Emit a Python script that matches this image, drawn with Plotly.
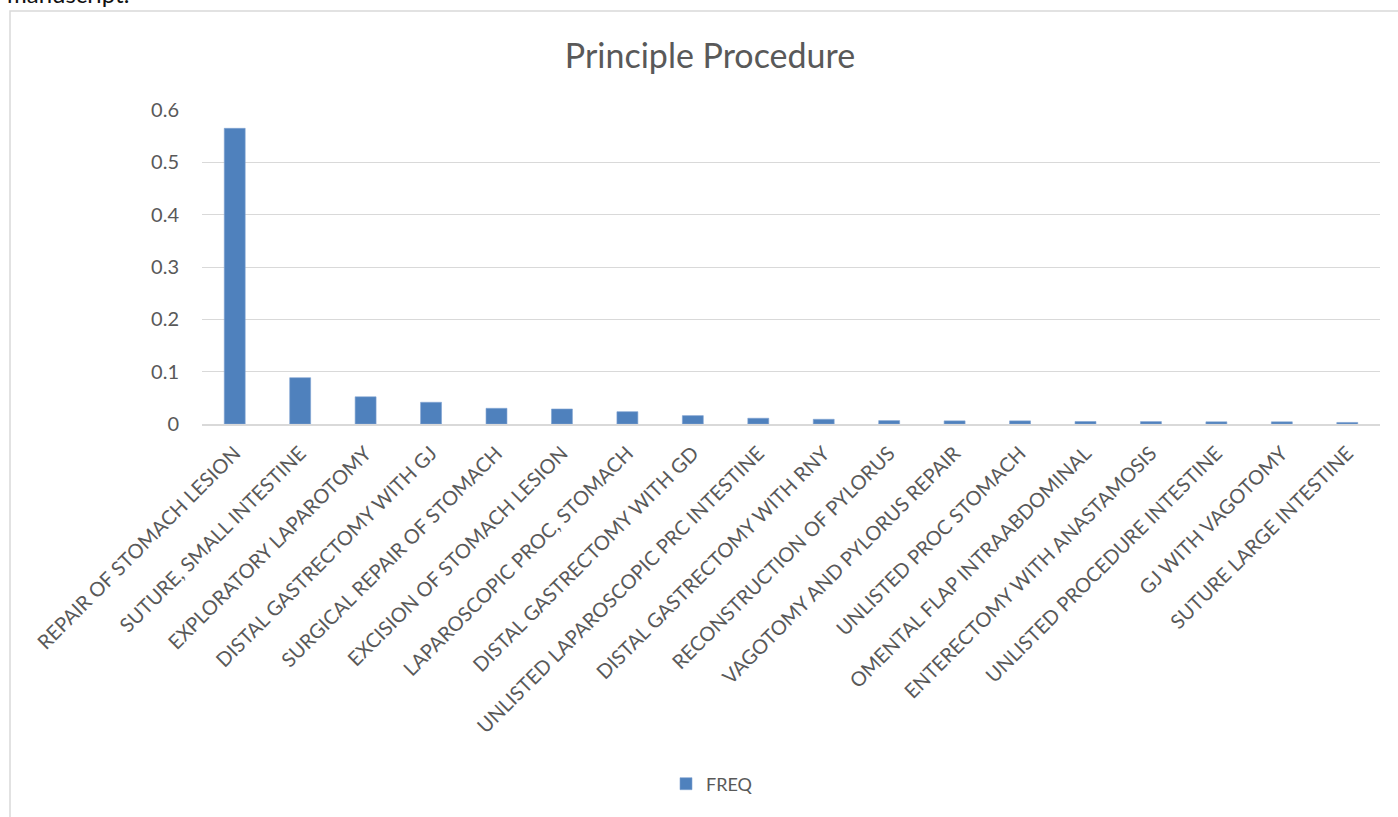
import plotly.graph_objects as go

categories = [
    "REPAIR OF STOMACH LESION",
    "SUTURE, SMALL INTESTINE",
    "EXPLORATORY LAPAROTOMY",
    "DISTAL GASTRECTOMY WITH GJ",
    "SURGICAL REPAIR OF STOMACH",
    "EXCISION OF STOMACH LESION",
    "LAPAROSCOPIC PROC, STOMACH",
    "DISTAL GASTRECTOMY WITH GD",
    "UNLISTED LAPAROSCOPIC PRC INTESTINE",
    "DISTAL GASTRECTOMY WITH RNY",
    "RECONSTRUCTION OF PYLORUS",
    "VAGOTOMY AND PYLORUS REPAIR",
    "UNLISTED PROC STOMACH",
    "OMENTAL FLAP INTRAABDOMINAL",
    "ENTERECTOMY WITH ANASTAMOSIS",
    "UNLISTED PROCEDURE INTESTINE",
    "GJ WITH VAGOTOMY",
    "SUTURE LARGE INTESTINE",
]
freq = [0.565, 0.0885, 0.052, 0.0415, 0.030, 0.0287, 0.0235, 0.016,
        0.011, 0.009, 0.0065, 0.006, 0.006, 0.0048, 0.0046, 0.0042, 0.0042, 0.003]
y_ticks = [0, 0.1, 0.2, 0.3, 0.4, 0.5, 0.6]
y_tick_text = ["0", "0.1", "0.2", "0.3", "0.4", "0.5", "0.6"]

W, H = 1398, 817
L, R, T, B = 202, 18, 110, 393
pw, ph = W - L - R, H - T - B

def px_x(p):
    return (p - L) / pw

def px_y(p):
    return (H - B - p) / ph

FONT = "Lato, Open Sans, sans-serif"
GREY = "#595959"

fig = go.Figure(
    go.Bar(
        x=categories,
        y=freq,
        name="FREQ",
        marker=dict(color="#4F81BD", line=dict(color="#7fa3d1", width=0.6)),
        showlegend=True,
    )
)

fig.update_layout(
    width=W,
    height=H,
    margin=dict(l=L, r=R, t=T, b=B, pad=0),
    paper_bgcolor="white",
    plot_bgcolor="white",
    font=dict(family=FONT, color=GREY, size=18),
    bargap=0.68,
    title=dict(
        text="Principle Procedure",
        x=710 / W, xref="container", xanchor="center",
        y=1 - 56 / H, yref="container", yanchor="middle",
        font=dict(size=34, color=GREY, family=FONT),
    ),
    xaxis=dict(
        type="category",
        tickangle=-45,
        tickfont=dict(size=20, color=GREY),
        showgrid=False,
        showline=True,
        linecolor="#D9D9D9",
        linewidth=1.5,
        ticks="",
        ticklen=0,
        ticklabelstandoff=8,
        automargin=False,
    ),
    yaxis=dict(
        range=[0, 0.6],
        tickvals=y_ticks,
        ticktext=y_tick_text,
        tickfont=dict(size=20, color=GREY),
        showgrid=True,
        gridcolor="#D9D9D9",
        gridwidth=1.2,
        zeroline=False,
        showline=False,
        ticks="outside",
        ticklen=18,
        tickcolor="rgba(0,0,0,0)",
        automargin=False,
    ),
    legend=dict(
        orientation="h",
        x=px_x(712), xref="paper", xanchor="center",
        y=px_y(784), yanchor="middle",
        font=dict(size=18, color=GREY),
        bgcolor="rgba(0,0,0,0)",
    ),
    shapes=[
        dict(
            type="rect", xref="paper", yref="paper",
            x0=px_x(10), x1=px_x(1410), y0=px_y(11), y1=px_y(840),
            line=dict(color="#D9D9D9", width=1.5),
            fillcolor="rgba(0,0,0,0)", layer="below",
        )
    ],
    annotations=[
        dict(
            text="manuscript.",
            xref="paper", yref="paper",
            x=px_x(5), y=px_y(10), xanchor="left", yanchor="bottom",
            showarrow=False,
            font=dict(size=24, color="#111111", family=FONT),
        )
    ],
)

fig.write_html("out.html")
